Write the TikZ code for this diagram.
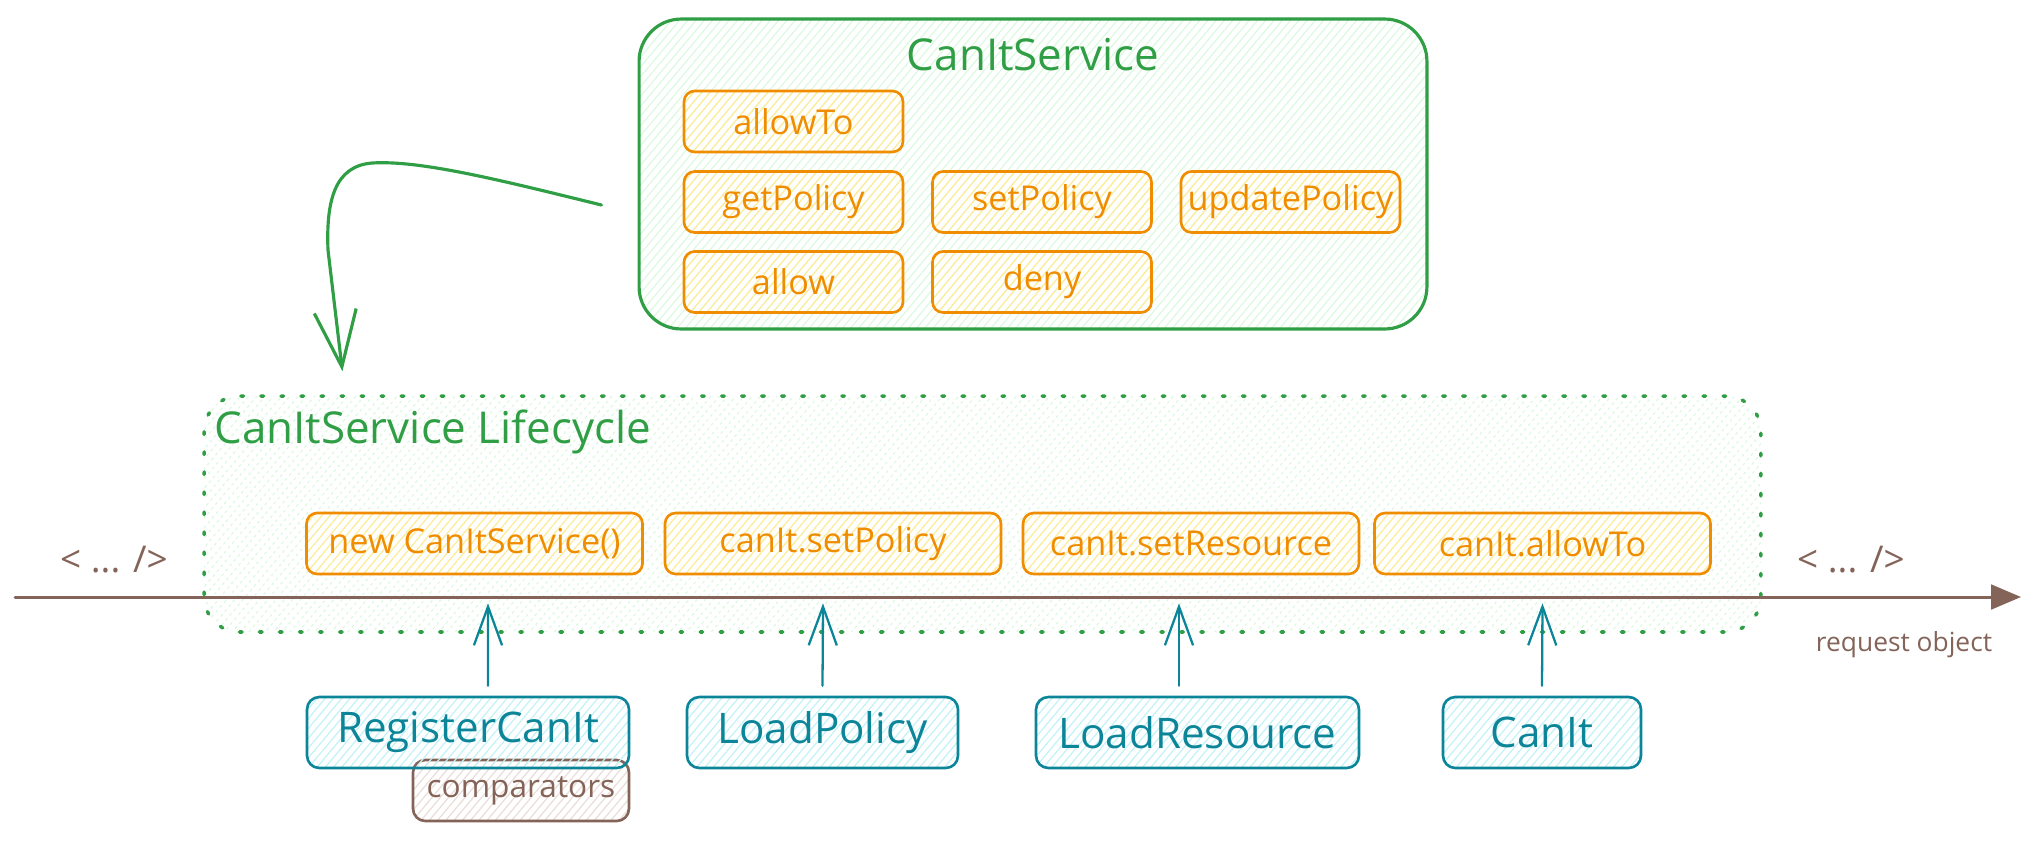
\documentclass[tikz,border=0pt]{standalone}
\usepackage{fontspec}
\setmainfont{Open Sans}
\usetikzlibrary{arrows.meta}
\usetikzlibrary{patterns.meta}
\definecolor{grn}{HTML}{2F9E44}
\definecolor{grnfill}{HTML}{B2F2BB}
\definecolor{org}{HTML}{F08C00}
\definecolor{orgfill}{HTML}{FFEC99}
\definecolor{tealc}{HTML}{0C8599}
\definecolor{tealfill}{HTML}{99E9F2}
\definecolor{brn}{HTML}{846358}
\definecolor{brnfill}{HTML}{EADDD7}

\tikzset{
  hatch/.style={pattern={Lines[angle=50,distance=3.6pt,line width=0.7pt]},pattern color=#1},
  method/.style={draw=org,line width=1.5pt,rounded corners=6pt,hatch=orgfill,text=org,
    font=\fontsize{19.5}{22}\selectfont,minimum width=4.38cm,minimum height=1.22cm,inner sep=0pt},
  stepbox/.style={method,minimum width=6.72cm},
  loader/.style={draw=tealc,line width=1.5pt,rounded corners=7pt,hatch=tealfill!60,text=tealc,
    font=\fontsize{24}{28}\selectfont,minimum height=1.42cm,inner sep=0pt},
  argbox/.style={draw=brn,line width=1.5pt,rounded corners=7pt,hatch=brnfill,text=brn,
    font=\fontsize{18}{20}\selectfont,minimum width=4.32cm,minimum height=1.22cm,inner sep=0pt},
  greentitle/.style={text=grn,font=\fontsize{25}{30}\selectfont,inner sep=0pt},
  brownlbl/.style={text=brn,inner sep=0pt},
  uparr/.style={draw=tealc,line width=1.3pt,-{Straight Barb[length=22pt,width=16pt]}},
}

\begin{document}
\begin{tikzpicture}[line cap=round,line join=round,x=0.02cm,y=-0.02cm]
\useasboundingbox (0,0) rectangle (2038,840);
% service
\node[draw=grn,line width=1.8pt,rounded corners=24pt,hatch=grnfill!45,minimum width=15.76cm,minimum height=6.2cm] (svc) at (1033,174) {};
\node[greentitle] (svctitle) at (1033,55) {CanItService};
\node[method] (allowto) at (793.5,121.5) {allowTo};
\node[method] (getpol) at (793.5,202) {getPolicy};
\node[method] (setpol) at (1042,202) {setPolicy};
\node[method] (updpol) at (1290.5,202) {updatePolicy};
\node[method] (allow) at (793.5,282) {allow};
\node[method] (deny) at (1042,282) {deny};
% lifecycle
\node[draw=grn,line width=2pt,dash pattern=on 1.5pt off 9.9pt,rounded corners=20pt,hatch=grnfill!45,minimum width=31.14cm,minimum height=4.72cm] (life) at (982.5,514) {};
\node[greentitle,anchor=base west] (lifetitle) at (214,443) {CanItService Lifecycle};
\node[stepbox] (newsvc) at (474.5,543.5) {new CanItService()};
\node[stepbox] (stpol) at (833,543.5) {canIt.setPolicy};
\node[stepbox] (stres) at (1191,543.5) {canIt.setResource};
\node[stepbox] (allowcall) at (1542.5,543.5) {canIt.allowTo};
% timeline
\coordinate (tlstart) at (15,597);
\coordinate (tlend) at (2021,597);
\draw[brn,line width=1.7pt,-{Triangle[length=17pt,width=14pt]}] (tlstart) -- (tlend);
\node[brownlbl,font=\fontsize{21}{24}\selectfont] (dotsl) at (114,560) {< ... />};
\node[brownlbl,font=\fontsize{21}{24}\selectfont] (dotsr) at (1851,560) {< ... />};
\node[brownlbl,font=\fontsize{15}{18}\selectfont] (reqobj) at (1904,645) {request object};
% loaders
\node[argbox] (cmp) at (521,790.5) {comparators};
\node[loader,minimum width=6.44cm] (reg) at (468,732.5) {RegisterCanIt};
\node[loader,minimum width=5.42cm] (ldpol) at (822.5,732.5) {LoadPolicy};
\node[loader,minimum width=6.46cm] (ldres) at (1197.5,732.5) {LoadResource};
\node[loader,minimum width=3.96cm] (canit) at (1542,732.5) {CanIt};
\draw[uparr] ([shift={(20,-10)}]reg.north) -- ([shift={(13.5,28)}]newsvc.south);
\draw[uparr] ([shift={(0,-10)}]ldpol.north) -- ([shift={(-10,28)}]stpol.south);
\draw[uparr] ([shift={(-18.5,-10)}]ldres.north) -- ([shift={(-12,28)}]stres.south);
\draw[uparr] ([shift={(0,-10)}]canit.north) -- ([shift={(0,28)}]allowcall.south);
\draw[grn,line width=1.8pt,-{Straight Barb[length=32pt,width=24pt]}] ([shift={(-37,31)}]svc.west) .. controls (500,180) and (420,160) .. (372,163) .. controls (335,166) and (326,200) .. (328,250) -- ([shift={(140,-23)}]life.north west);
\end{tikzpicture}
\end{document}
